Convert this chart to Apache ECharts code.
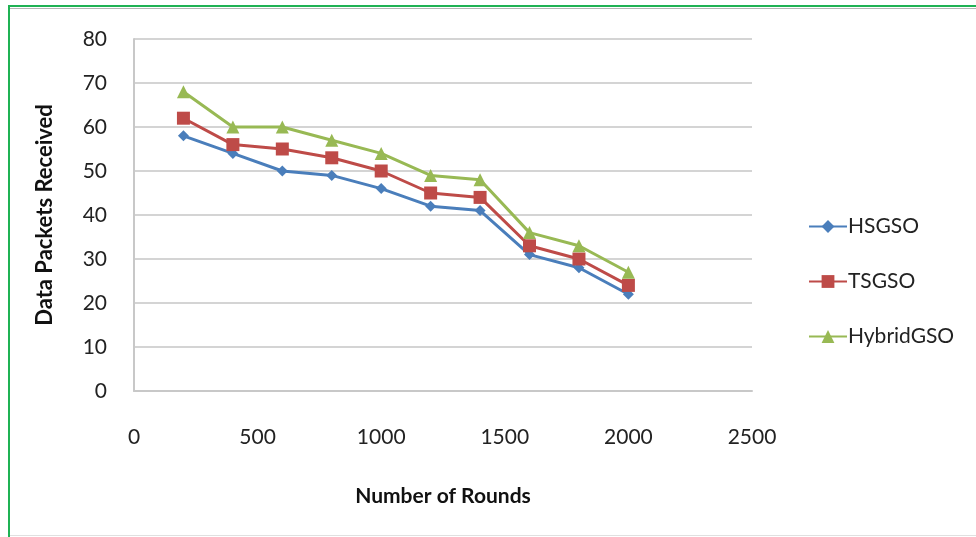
<!DOCTYPE html>
<html><head><meta charset="utf-8">
<script src="https://cdn.jsdelivr.net/npm/echarts@6/dist/echarts.min.js"></script>
<style>
html,body{margin:0;padding:0;background:#fff;}
#c{width:976px;height:537px;position:absolute;left:0;top:0;}
#bt{position:absolute;left:8px;top:5px;width:968px;height:2px;background:#1fb254;}
#bt2{position:absolute;left:10px;top:8px;width:966px;height:1px;background:#b5b5b5;}
#bl{position:absolute;left:8px;top:5px;width:2px;height:532px;background:#1fb254;}
#bb{position:absolute;left:10px;top:535px;width:966px;height:1px;background:#e0e0e0;}
</style></head>
<body>
<div id="c"></div><div id="bt"></div><div id="bt2"></div><div id="bl"></div><div id="bb"></div>
<script>
const rounds = [200, 400, 600, 800, 1000, 1200, 1400, 1600, 1800, 2000];
const hsgso = [58, 54, 50, 49, 46, 42, 41, 31, 28, 22];
const tsgso = [62, 56, 55, 53, 50, 45, 44, 33, 30, 24];
const hybridgso = [68, 60, 60, 57, 54, 49, 48, 36, 33, 27];
const seriesNames = ['HSGSO', 'TSGSO', 'HybridGSO'];

const font = 'Lato, "Open Sans", sans-serif';
function pairs(vals){ return rounds.map((r,i)=>[r, vals[i]]); }
const chart = echarts.init(document.getElementById('c'));
chart.setOption({
  animation:false,
  textStyle:{fontFamily:font},
  grid:{left:134, right:224, top:39, bottom:146, containLabel:false},
  xAxis:{type:'value', min:0, max:2500, interval:500,
    name:'Number of Rounds', nameLocation:'middle', nameGap:95,
    nameTextStyle:{fontSize:21, fontWeight:'bold', color:'#111', fontFamily:font},
    axisLine:{show:true, lineStyle:{color:'#c8c8c8', width:2}},
    axisTick:{show:false},
    axisLabel:{fontSize:21, color:'#222', margin:36, fontFamily:font, formatter:function(v){return String(v);}},
    splitLine:{show:false}},
  yAxis:{type:'value', min:0, max:80, interval:10,
    name:'Data Packets Received', nameLocation:'middle', nameGap:78,
    nameTextStyle:{fontSize:22, fontWeight:'bold', color:'#111', fontFamily:font},
    axisLine:{show:true, lineStyle:{color:'#c8c8c8', width:2}},
    axisTick:{show:false},
    axisLabel:{fontSize:21, color:'#222', margin:27, fontFamily:font},
    splitLine:{show:true, lineStyle:{color:'#d4d4d4', width:2}}},
  legend:{orient:'vertical', left:803, top:211, itemGap:34, itemWidth:38, itemHeight:16,
    data:seriesNames,
    textStyle:{fontSize:21, color:'#222', fontFamily:font, padding:[0,0,0,-4]}},
  series:[
    {name:seriesNames[0], type:'line', data:pairs(hsgso), symbol:'diamond', symbolSize:11,
      color:'#4a7ebb', lineStyle:{width:3, color:'#4a7ebb'}, itemStyle:{color:'#4a7ebb'}},
    {name:seriesNames[1], type:'line', data:pairs(tsgso), symbol:'rect', symbolSize:13,
      color:'#be4b48', lineStyle:{width:3, color:'#be4b48'}, itemStyle:{color:'#be4b48'}},
    {name:seriesNames[2], type:'line', data:pairs(hybridgso), symbol:'triangle', symbolSize:13,
      color:'#98b954', lineStyle:{width:3, color:'#98b954'}, itemStyle:{color:'#98b954'}}
  ]
});
</script>
</body></html>
